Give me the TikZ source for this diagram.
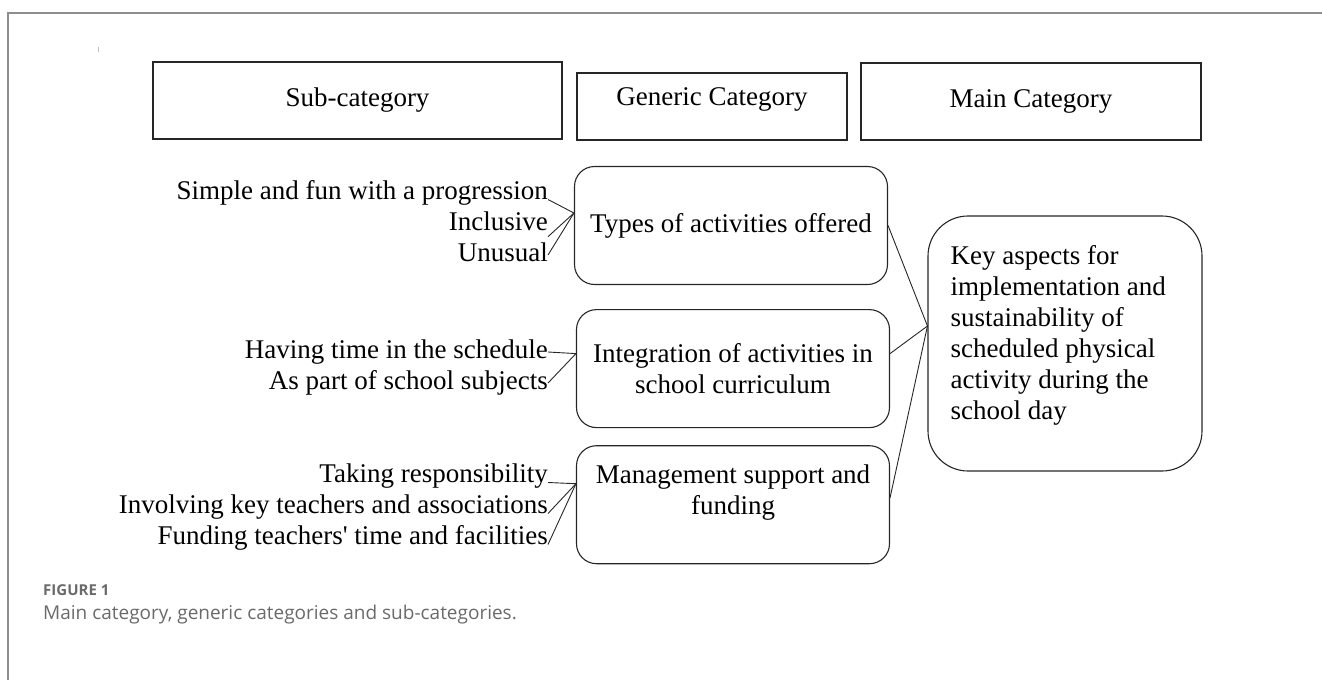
\documentclass[tikz,border=0pt]{standalone}
\usepackage{fontspec}
\setmainfont{Liberation Serif}
\newfontfamily\capfont{Open Sans}
\usetikzlibrary{positioning}

\definecolor{framegray}{HTML}{8E8E8E}
\definecolor{capgray}{HTML}{6A6A6A}

\begin{document}
\begin{tikzpicture}[
  x=1pt, y=-1pt,
  font=\fontsize{27}{31}\selectfont,
  header/.style={draw=black!85, line width=1.1pt, rectangle, inner sep=0pt, minimum height=77pt, text height=18.5pt, text depth=6pt},
  generic/.style={draw=black!85, line width=1.1pt, rectangle, rounded corners=20pt, inner sep=0pt, minimum width=313pt, minimum height=118pt, align=center},
  mainbox/.style={draw=black!85, line width=1.1pt, rectangle, rounded corners=40pt, inner sep=0pt, minimum width=274pt, minimum height=255pt},
  subitem/.style={anchor=east, inner sep=0pt, text height=19pt, text depth=6pt},
  boxtext/.style={inner sep=0pt},
  link/.style={draw=black!85, line width=0.9pt}
]
  \useasboundingbox (0,0) rectangle (1322,680);

  % outer frame and stray mark
  \draw[framegray, line width=1.5pt] (1322,13) -- (8,13) -- (8,680);
  \draw[black!25, line width=0.8pt] (98,47) -- (98,52);

  % column headings
  \node[header, minimum width=409pt] (subhead) at (357.5,100.5) {Sub-category};
  \node[header, minimum width=270pt, minimum height=67pt, text depth=20pt] (genhead) at (712,106.5) {Generic Category};
  \node[header, minimum width=340pt] (mainhead) at (1031,101.5) {Main Category};

  % generic categories
  \node[generic] (types) at (731,225.5) {Types of activities offered};
  \node[generic, below=24pt of types, xshift=2pt] (integ) {Integration of activities in\\school curriculum};
  \node[generic, below=17pt of integ,
    label={[boxtext, align=center, yshift=12.5pt]center:Management support and\\funding}] (mgmt) {};

  % main category
  \node[mainbox,
    label={[boxtext, align=left, anchor=west, xshift=23pt, yshift=8.5pt]west:Key aspects for\\implementation and\\sustainability of\\scheduled physical\\activity during the\\school day}] (key) at (1065,343.5) {};

  % sub-categories
  \node[subitem] (s1) at (548,193) {Simple and fun with a progression};
  \node[subitem] (s2) at (548,224) {Inclusive};
  \node[subitem] (s3) at (548,255) {Unusual};
  \node[subitem] (h1) at (548,352) {Having time in the schedule};
  \node[subitem] (h2) at (548,383) {As part of school subjects};
  \node[subitem] (m1) at (548,476) {Taking responsibility};
  \node[subitem] (m2) at (548,507) {Involving key teachers and associations};
  \node[subitem] (m3) at (548,538) {Funding teachers\textquotesingle{} time and facilities};

  % meeting points on the boxes
  \coordinate (typesin) at ([yshift=12.5pt]types.west);
  \coordinate (integin) at ([yshift=15pt]integ.west);
  \coordinate (mgmtin) at ([yshift=21pt]mgmt.west);
  \coordinate (keyin) at ([yshift=17.5pt]key.west);

  \draw[link] (s1.base east) -- (typesin);
  \draw[link] (s2.south east) -- (typesin);
  \draw[link] (s3.east) -- (typesin);
  \draw[link] (h1.east) -- (integin);
  \draw[link] (h2.east) -- (integin);
  \draw[link] (m1.base east) -- (mgmtin);
  \draw[link] (m2.base east) -- (mgmtin);
  \draw[link] (m3.base east) -- (mgmtin);

  \draw[link] (types.east) -- (keyin);
  \draw[link] ([yshift=15pt]integ.east) -- (keyin);
  \draw[link] ([yshift=7pt]mgmt.east) -- (keyin);

  % caption
  \node[anchor=west, inner sep=0pt, text=capgray, font=\capfont\bfseries\fontsize{15}{18}\selectfont] (fignum) at (43,590) {FIGURE 1};
  \node[anchor=west, inner sep=0pt, text=capgray, font=\capfont\fontsize{19}{23}\selectfont] (figcap) at (43,615) {Main category, generic categories and sub-categories.};
\end{tikzpicture}
\end{document}
